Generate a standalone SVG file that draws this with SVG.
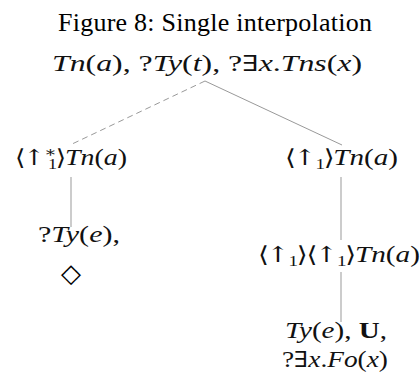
<svg xmlns="http://www.w3.org/2000/svg" width="420" height="379" viewBox="0 0 420 379">
<style>
.t{font-family:"Liberation Serif","DejaVu Serif",serif;fill:#000}
.m{font-family:"Liberation Serif","DejaVu Serif",serif;font-size:23px;fill:#111}
.i{font-style:italic}
.b{font-weight:bold}
.s{font-size:15px}
.g{font-family:"DejaVu Serif",serif;font-size:22px}
.ln{stroke:#999;stroke-width:1;fill:none}
.d{stroke-dasharray:6,4}
</style>
<rect width="420" height="379" fill="#fff"/>
<text class="t" x="58" y="31" font-size="26" textLength="314">Figure 8: Single interpolation</text>
<g id="connectors">
<line class="ln d" x1="205" y1="81" x2="70" y2="145"/>
<line class="ln" x1="205" y1="81" x2="342" y2="145"/>
<line class="ln" x1="71" y1="177" x2="71" y2="227"/>
<line class="ln" x1="341" y1="177" x2="341" y2="240"/>
<line class="ln" x1="341" y1="272" x2="341" y2="322"/>
</g>
<g id="root">
<text class="m" x="52" y="71" textLength="310" lengthAdjust="spacingAndGlyphs"><tspan class="i">Tn</tspan>(<tspan class="i">a</tspan>), ?<tspan class="i">Ty</tspan>(<tspan class="i">t</tspan>), ?<tspan class="g">∃</tspan><tspan class="i">x</tspan>.<tspan class="i">Tns</tspan>(<tspan class="i">x</tspan>)</text>
</g>
<g id="left">
<text class="m" x="15" y="165" textLength="112" lengthAdjust="spacingAndGlyphs"><tspan class="g">⟨</tspan><tspan class="g" dx="-2">↑</tspan><tspan class="s" dx="-1" dy="-8">∗</tspan><tspan class="s" dx="-7" dy="12">1</tspan><tspan class="g" dx="-1" dy="-4">⟩</tspan><tspan class="i" dx="-1">Tn</tspan>(<tspan class="i">a</tspan>)</text>
</g>
<g id="left-child">
<text class="m" x="38" y="242" textLength="82" lengthAdjust="spacingAndGlyphs">?<tspan class="i">Ty</tspan>(<tspan class="i">e</tspan>),</text>
<text x="71" y="282" font-family="DejaVu Sans, sans-serif" font-size="26" text-anchor="middle">◇</text>
</g>
<g id="right">
<text class="m" x="285" y="165" textLength="113" lengthAdjust="spacingAndGlyphs"><tspan class="g">⟨</tspan><tspan class="g" dx="-2">↑</tspan><tspan class="s" dx="-1" dy="4">1</tspan><tspan class="g" dx="-1" dy="-4">⟩</tspan><tspan class="i" dx="-1">Tn</tspan>(<tspan class="i">a</tspan>)</text>
</g>
<g id="right-child">
<text class="m" x="258" y="262" textLength="162" lengthAdjust="spacingAndGlyphs"><tspan class="g">⟨</tspan><tspan class="g" dx="-2">↑</tspan><tspan class="s" dx="-1" dy="4">1</tspan><tspan class="g" dx="-1" dy="-4">⟩</tspan><tspan class="g" dx="-1">⟨</tspan><tspan class="g" dx="-2">↑</tspan><tspan class="s" dx="-1" dy="4">1</tspan><tspan class="g" dx="-1" dy="-4">⟩</tspan><tspan class="i" dx="-1">Tn</tspan>(<tspan class="i">a</tspan>)</text>
</g>
<g id="right-leaf">
<text class="m" x="285" y="338" textLength="102" lengthAdjust="spacingAndGlyphs"><tspan class="i">Ty</tspan>(<tspan class="i">e</tspan>), <tspan class="b">U</tspan>,</text>
<text class="m" x="282" y="367" textLength="106" lengthAdjust="spacingAndGlyphs">?<tspan class="g">∃</tspan><tspan class="i">x</tspan>.<tspan class="i">Fo</tspan>(<tspan class="i">x</tspan>)</text>
</g>
</svg>
